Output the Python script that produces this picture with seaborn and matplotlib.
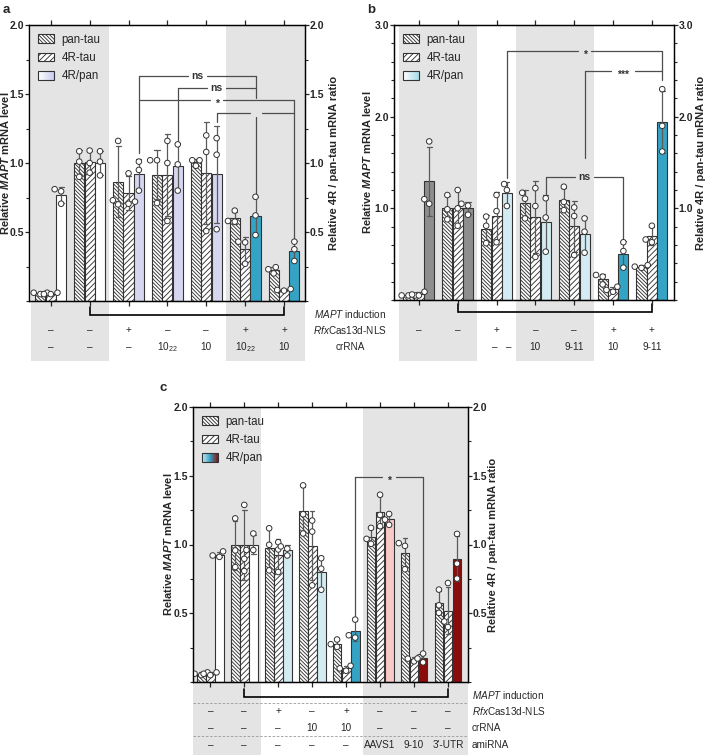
import numpy as np
import pandas as pd
import matplotlib
matplotlib.use("Agg")
import matplotlib.pyplot as plt
import seaborn as sns
from matplotlib.patches import Rectangle, Patch
from matplotlib.legend_handler import HandlerBase
from matplotlib.colors import LinearSegmentedColormap
from matplotlib.ticker import FixedLocator, MultipleLocator, FormatStrFormatter

sns.set_theme(style="ticks")
plt.rcParams["font.family"] = ["Liberation Sans", "DejaVu Sans"]
plt.rcParams.update({
    "mathtext.fontset": "custom",
    "mathtext.rm": "Liberation Sans",
    "mathtext.it": "Liberation Sans:italic",
    "mathtext.bf": "Liberation Sans:bold",
    "mathtext.bfit": "Liberation Sans:italic:bold",
    "hatch.linewidth": 0.65,
    "hatch.color": "#333333",
    "axes.linewidth": 0.9,
    "axes.edgecolor": "black",
})

MEASURES = ["pan-tau", "4R-tau", "4R/pan"]

# ---------------- data: panel a ----------------
a_pan = [[0.06, 0.06, 0.05], [1.085, 1.01, 0.90], [1.16, 0.73, 0.70], [1.02, 1.02, 0.71],
         [1.02, 1.02, 0.98], [0.655, 0.58, 0.575], [0.245, 0.23, 0.20]]
a_4r = [[0.06, 0.05, 0.05], [1.09, 1.0, 0.93], [0.925, 0.72, 0.705], [1.16, 1.0, 0.58],
        [1.20, 1.08, 0.507], [0.43, 0.425, 0.27], [0.087, 0.08, 0.075]]
a_ratio = [[0.81, 0.795, 0.705], [1.085, 1.01, 0.91], [1.01, 0.95, 0.80], [1.135, 0.99, 0.80],
           [1.18, 1.06, 0.52], [0.755, 0.62, 0.478], [0.43, 0.375, 0.29]]
a_ratio_colors = ["#ffffff", "#ffffff", "#d6d6f0", "#d6d6f0", "#d6d6f0", "#35a3c4", "#35a3c4"]
a_rfx = ["–", "–", "+", "–", "–", "+", "+"]
a_crrna = ["–", "–", "–", "10$_{\\mathregular{22}}$", "10", "10$_{\\mathregular{22}}$", "10"]
a_brackets = [(2, 5, 1.63, "ns"), (3, 5, 1.54, "ns"), (2, 6, 1.457, "*"), (4, 6, 1.36, "")]
a_drops = [(2, 1.63, 1.07), (3, 1.54, 1.16), (5, 1.63, 1.47), (5, 1.33, 0.77),
           (6, 1.457, 0.45), (4, 1.36, 1.30)]

# ---------------- data: panel b ----------------
b_pan = [[0.05, 0.05, 0.05], [1.145, 0.99, 0.88], [0.91, 0.81, 0.62], [1.17, 1.105, 0.89],
         [1.236, 1.07, 0.98], [0.273, 0.255, 0.17], [0.38, 0.364, 0.35]]
b_4r = [[0.05, 0.06, 0.09], [1.20, 1.0, 0.81], [1.145, 0.97, 0.63], [1.22, 1.025, 0.47],
        [1.01, 0.916, 0.49], [0.145, 0.11, 0.09], [0.81, 0.66, 0.63]]
b_ratio = [[1.73, 1.10, 1.05], [1.05, 1.03, 0.93], [1.265, 1.20, 1.025], [1.11, 0.90, 0.527],
           [0.89, 0.745, 0.516], [0.63, 0.534, 0.353], [2.30, 1.90, 1.62]]
b_ratio_colors = ["#8e8e8e", "#8e8e8e", "#d3ecf3", "#d3ecf3", "#d3ecf3", "#35a3c4", "#35a3c4"]
b_rfx = ["–", "–", "+", "–", "–", "+", "+"]
b_crrna = ["", "", "–   –", "10", "9-11", "10", "9-11"]
b_brackets = [(2, 6, 2.715, "*"), (4, 6, 2.50, "***"), (3, 5, 1.34, "ns")]
b_drops = [(2, 2.715, 1.33), (6, 2.715, 2.40), (4, 2.50, 1.55), (3, 1.34, 1.145), (5, 1.34, 0.67)]

# ---------------- data: panel c ----------------
c_pan = [[0.07, 0.06, 0.05], [1.19, 0.957, 0.836], [1.118, 0.998, 0.812], [1.43, 1.22, 1.08],
         [0.309, 0.275, 0.256], [1.121, 1.041, 1.005], [1.01, 0.99, 0.82], [0.672, 0.558, 0.503]]
c_4r = [[0.07, 0.06, 0.05], [1.288, 0.896, 0.807], [1.017, 0.964, 0.80], [1.174, 1.094, 0.703],
        [0.118, 0.099, 0.082], [1.362, 1.215, 1.133], [0.18, 0.17, 0.15], [0.72, 0.44, 0.40]]
c_ratio = [[0.95, 0.92, 0.91], [1.08, 0.96, 0.96], [0.986, 0.97, 0.92], [0.90, 0.824, 0.671],
           [0.454, 0.34, 0.323], [1.222, 1.181, 1.143], [0.207, 0.171, 0.143], [1.077, 0.861, 0.752]]
c_ratio_colors = ["#ffffff", "#ffffff", "#d3ecf3", "#d3ecf3", "#35a3c4", "#f8c9c9", "#8b0c0c", "#8b0c0c"]
c_rfx = ["–", "–", "+", "–", "+", "–", "–", "–"]
c_crrna = ["–", "–", "–", "10", "10", "–", "–", "–"]
c_amirna = ["–", "–", "–", "–", "–", "AAVS1", "9-10", "3'-UTR"]
c_brackets = [(4, 6, 1.49, "*")]
c_drops = [(4, 1.49, 0.48), (6, 1.49, 0.22)]

# ---------------- figure helpers ----------------
W, H = 708, 755
fig = plt.figure(figsize=(W / 100, H / 100), dpi=100)
EDGE = "#333333"
SHADE = "#e4e4e4"
BR = "#4d4d4d"
HATCH = {"pan-tau": "\\" * 9, "4R-tau": "/" * 6}
OFF = 0.8 / 3


def px_axes(l, t, r, b, **kw):
    return fig.add_axes([l / W, 1 - b / H, (r - l) / W, (b - t) / H], **kw)


def ftext(x, y, s, **kw):
    fig.text(x / W, 1 - y / H, s, **kw)


class GradHandler(HandlerBase):
    def __init__(self, colors):
        super().__init__()
        self.cmap = LinearSegmentedColormap.from_list("g", colors)

    def create_artists(self, legend, orig_handle, xdescent, ydescent, width, height, fontsize, trans):
        n = 24
        arts = []
        for i in range(n):
            arts.append(Rectangle((-xdescent + width * i / n, -ydescent), width / n + 0.3, height,
                                  facecolor=self.cmap(i / (n - 1)), edgecolor="none", transform=trans))
        arts.append(Rectangle((-xdescent, -ydescent), width, height, fill=False,
                              edgecolor=EDGE, lw=0.8, transform=trans))
        return arts


def draw_panel(box, tbox, ylim, major, minor, pan, r4, ratio, rcolors, xlim, shades,
               brackets, drops, grad, ylx, yrx):
    l, t, r, b = box
    tt, tb = tbox
    n = len(pan)
    tax = px_axes(l, tt, r, tb)
    tax.set_xlim(xlim)
    tax.set_ylim(tb, tt)
    tax.axis("off")
    for a0, a1 in shades:
        tax.axvspan(a0, a1, color=SHADE, lw=0, zorder=0)

    ax = px_axes(l, t, r, b)
    rows = []
    for g in range(n):
        for m, reps in zip(MEASURES, (pan[g], r4[g], ratio[g])):
            for v in reps:
                rows.append((str(g), m, v))
    df = pd.DataFrame(rows, columns=["group", "measure", "value"])
    order = [str(g) for g in range(n)]
    sns.barplot(data=df, x="group", y="value", hue="measure", order=order, hue_order=MEASURES,
                errorbar="sd", capsize=0.4, gap=0.03,
                err_kws={"color": "#5a5a5a", "linewidth": 0.9},
                edgecolor=EDGE, linewidth=0.8, legend=False, ax=ax)
    for m, cont in zip(MEASURES, ax.containers):
        for g, bar in enumerate(cont):
            if m == "4R/pan":
                bar.set_facecolor(rcolors[g])
            else:
                bar.set_facecolor("white")
                bar.set_hatch(HATCH[m])
            bar.set_edgecolor(EDGE)
    sns.swarmplot(data=df, x="group", y="value", hue="measure", order=order, hue_order=MEASURES,
                  dodge=True, size=4.0, palette=["white"] * 3, edgecolor="#333333",
                  linewidth=0.7, legend=False, ax=ax, zorder=4)
    for a0, a1 in shades:
        ax.axvspan(a0, a1, color=SHADE, lw=0, zorder=0)
    ax.set_xlim(xlim)
    ax.set_ylim(ylim)
    ax.set_xlabel("")
    ax.set_xticks(range(n))
    ax.set_xticklabels([])
    ax.tick_params(axis="x", which="both", top=True, bottom=True, direction="out",
                   length=3.5, width=0.9)

    # significance brackets
    ppu = (r - l) / (xlim[1] - xlim[0])
    for g1, g2, y, lab in brackets:
        x1, x2 = g1 + OFF, g2 + OFF
        xc = (x1 + x2) / 2
        gap = max(6, 4 + 2.7 * len(lab)) / ppu
        ax.plot([x1, xc - gap], [y, y], color=BR, lw=0.9, zorder=3)
        ax.plot([xc + gap, x2], [y, y], color=BR, lw=0.9, zorder=3)
        if lab:
            dy = -2.8 if lab.startswith("*") else 0.0
            ax.annotate(lab, (xc, y), xytext=(0, dy), textcoords="offset points",
                        ha="center", va="center", fontsize=7.5, fontweight="bold",
                        color="#333333", zorder=3)
    for g, y0, y1 in drops:
        ax.plot([g + OFF, g + OFF], [y0, y1], color=BR, lw=0.9, zorder=3)

    ax2 = ax.twinx()
    for a in (ax, ax2):
        a.set_ylim(ylim)
        a.yaxis.set_major_locator(FixedLocator(major))
        a.yaxis.set_minor_locator(MultipleLocator(minor))
        a.yaxis.set_major_formatter(FormatStrFormatter("%.1f"))
        a.tick_params(axis="y", which="major", length=3, width=0.9, direction="out",
                      labelsize=7.5, pad=0.5)
        a.tick_params(axis="y", which="minor", length=2.2, width=0.8, direction="out")
        for lab in a.get_yticklabels():
            lab.set_fontweight("bold")
    ax.set_ylabel("Relative $\\mathbfit{MAPT}$ mRNA level", fontsize=8, fontweight="bold")
    ax.yaxis.set_label_coords((ylx - l) / (r - l), 0.5)
    ax2.set_ylabel("Relative 4R / pan-tau mRNA ratio", fontsize=8, fontweight="bold",
                   rotation=90)
    ax2.yaxis.set_label_coords((yrx - l) / (r - l), 0.5)

    h1 = Patch(facecolor="white", edgecolor=EDGE, hatch=HATCH["pan-tau"], lw=0.8)
    h2 = Patch(facecolor="white", edgecolor=EDGE, hatch=HATCH["4R-tau"], lw=0.8)
    h3 = Patch(facecolor="white", edgecolor=EDGE)
    ax.legend([h1, h2, h3], MEASURES, loc="upper left", bbox_to_anchor=(0.0, 1.0),
              frameon=False, fontsize=8.3, handlelength=1.45, handleheight=0.8,
              handletextpad=0.6, labelspacing=0.55, borderaxespad=0.35,
              handler_map={h3: GradHandler(grad)})
    return ax, tax


def table_row(tax, y, vals):
    for g, s in enumerate(vals):
        if s:
            # two-entry cells start at the group centre
            xo = 0.14 if " " in s and "$" not in s else 0.0
            tax.text(g + xo, y, s, ha="center", va="center", fontsize=7.2)


def induction(tax, n, y, ytop):
    tax.plot([1, 1, n - 1, n - 1], [ytop, y, y, ytop], color="black", lw=1.2,
             solid_joinstyle="miter")


# ---------------- panel a ----------------
ax_a, tax_a = draw_panel((29, 25, 305, 301), (301, 361), (0, 2.0), [0.5, 1.0, 1.5, 2.0], 0.25,
                         a_pan, a_4r, a_ratio, a_ratio_colors, (-0.56, 6.54),
                         [(-0.5, 1.5), (4.5, 6.54)], a_brackets, a_drops,
                         ["#ffffff", "#c9cdf0"], 11, 329)
induction(tax_a, 7, 315, 307)
table_row(tax_a, 330, a_rfx)
table_row(tax_a, 347, a_crrna)
ftext(350, 314, "$\\mathit{MAPT}$ induction", ha="center", va="center", fontsize=7.2)
ftext(350, 330, "$\\mathit{Rfx}$Cas13d-NLS", ha="center", va="center", fontsize=7.2)
ftext(350, 347, "crRNA", ha="center", va="center", fontsize=7.2)

# ---------------- panel b ----------------
ax_b, tax_b = draw_panel((394, 25, 674, 300), (300, 361), (0, 3.0), [1.0, 2.0, 3.0], 0.2,
                         b_pan, b_4r, b_ratio, b_ratio_colors, (-0.64, 6.57),
                         [(-0.5, 1.5), (2.5, 4.5)], b_brackets, b_drops,
                         ["#ffffff", "#a6dbe9"], 373, 696)
induction(tax_b, 7, 312, 304)
table_row(tax_b, 330, b_rfx)
table_row(tax_b, 347, b_crrna)

# ---------------- panel c ----------------
ax_c, tax_c = draw_panel((193, 407, 468, 682), (682, 755), (0, 2.0), [0.5, 1.0, 1.5, 2.0], 0.25,
                         c_pan, c_4r, c_ratio, c_ratio_colors, (-0.51, 7.59),
                         [(-0.5, 1.5), (4.5, 7.59)], c_brackets, c_drops,
                         ["#d3ecf3", "#35a3c4", "#8b0c0c"], 174, 488)
induction(tax_c, 8, 697, 689)
for yy in (703, 736):
    tax_c.plot([-0.51, 7.59], [yy, yy], color="#999999", lw=0.6, ls=(0, (3, 2)))
table_row(tax_c, 711, c_rfx)
table_row(tax_c, 728, c_crrna)
table_row(tax_c, 745, c_amirna)
ftext(472, 695, "$\\mathit{MAPT}$ induction", ha="left", va="center", fontsize=7.2)
ftext(472, 711, "$\\mathit{Rfx}$Cas13d-NLS", ha="left", va="center", fontsize=7.2)
ftext(472, 728, "crRNA", ha="left", va="center", fontsize=7.2)
ftext(472, 745, "amiRNA", ha="left", va="center", fontsize=7.2)

# panel letters
ftext(3, 10, "a", fontsize=9.5, fontweight="bold", va="center")
ftext(367, 10, "b", fontsize=9.5, fontweight="bold", va="center")
ftext(163, 388, "c", fontsize=9.5, fontweight="bold", va="center", ha="center")

fig.savefig("out.png", dpi=100)
